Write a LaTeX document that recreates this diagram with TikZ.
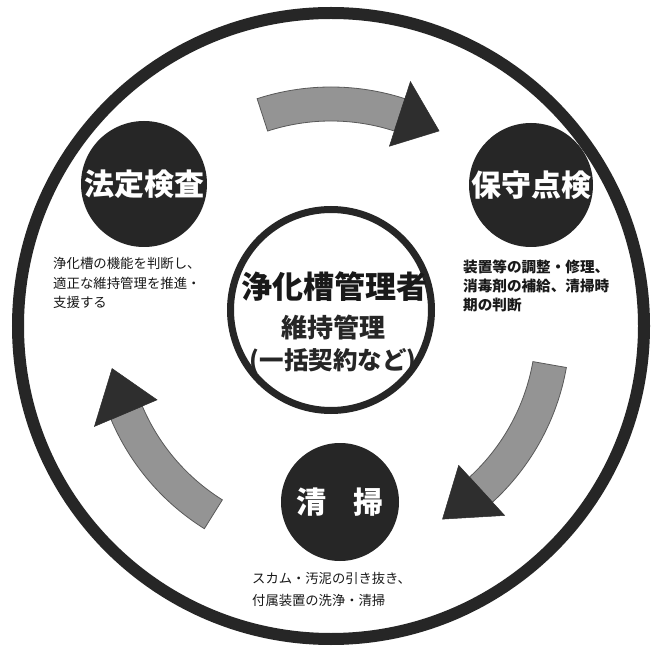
\documentclass[tikz,border=0pt]{standalone}
\usepackage{fontspec}
\newfontfamily\jp{Noto Sans CJK JP}
\begin{document}
\begin{tikzpicture}[x=1pt,y=1pt,
  ring/.style={circle, draw=black!85, inner sep=0pt},
  dot/.style={circle, fill=black!85, inner sep=0pt, text=white, font=\jp\bfseries\fontsize{30}{32}\selectfont},
  note/.style={align=left, inner sep=0pt, text=black!90},
  arrowbody/.style={fill=black!42, draw=black!65, line width=0.8pt},
  arrowhead/.style={fill=black!82, draw=black!82, line width=0.5pt, line join=miter}
]
\useasboundingbox (0,0) rectangle (651,649);
\fill[white] (0,0) rectangle (651,649);
\coordinate (C) at (331,323);

% outer ring
\node[ring, line width=12pt, minimum size=626pt] (outer) at (C) {};

% cycle arrows (body start angle, body end angle, tip angle)
\newcommand\cyclearrow[3]{%
  \begin{scope}[shift={(C)}]
    \filldraw[arrowbody] (#1:205pt) arc[start angle=#1, end angle=#2, radius=205pt]
      -- (#2:239pt) arc[start angle=#2, end angle=#1, radius=239pt] -- cycle;
    \filldraw[arrowhead] (#2:189pt) -- (#3:223pt) -- (#2:257pt) -- cycle;
  \end{scope}}
\cyclearrow{108}{72}{61}
\cyclearrow{-10}{-47.5}{-60}
\cyclearrow{238}{203}{191}

% inner ring
\node[ring, line width=7pt, minimum size=201pt] (center) at (331,339) {};
\node[font=\jp\bfseries\fontsize{31}{33}\selectfont, text=black!90] (title) at (334,362) {浄化槽管理者};
\node[font=\jp\bfseries\fontsize{26}{28}\selectfont, text=black!85] (sub1) at (333,321) {維持管理};
\node[font=\jp\bfseries\fontsize{24.5}{27}\selectfont, text=black!85] (sub2) at (333,287) {(一括契約など)};

% three stages
\node[dot, minimum size=126pt] (kensa) at (144,465) {法定検査};
\node[dot, minimum size=124pt] (hoshu) at (531,464) {保守点検};
\node[dot, minimum size=118pt] (seiso) at (340,147) {清\hspace{28pt}掃};

\node[note, anchor=west, font=\jp\fontsize{13.4}{19.5}\selectfont] (kensanote) at (53,366)
  {浄化槽の機能を判断し、\\適正な維持管理を推進・\\支援する};
\node[note, anchor=west, font=\jp\bfseries\fontsize{14.6}{19.2}\selectfont] (hoshunote) at (463,363)
  {装置等の調整・修理、\\消毒剤の補給、清掃時\\期の判断};
\node[note, anchor=west, font=\jp\fontsize{13.3}{22}\selectfont] (seisonote) at (252,60)
  {スカム・汚泥の引き抜き、\\付属装置の洗浄・清掃};
\end{tikzpicture}
\end{document}
